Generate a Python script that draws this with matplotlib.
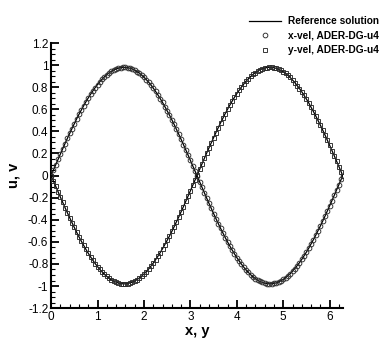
import matplotlib
matplotlib.use("Agg")
import matplotlib.pyplot as plt
from matplotlib.ticker import MultipleLocator

# sample positions along x (or y)
x_pos = [0.00, 0.05, 0.10, 0.15, 0.20, 0.25, 0.30, 0.35, 0.40, 0.45,
         0.50, 0.55, 0.60, 0.65, 0.70, 0.75, 0.80, 0.85, 0.90, 0.95,
         1.00, 1.05, 1.10, 1.15, 1.20, 1.25, 1.30, 1.35, 1.40, 1.45,
         1.50, 1.55, 1.60, 1.65, 1.70, 1.75, 1.80, 1.85, 1.90, 1.95,
         2.00, 2.05, 2.10, 2.15, 2.20, 2.25, 2.30, 2.35, 2.40, 2.45,
         2.50, 2.55, 2.60, 2.65, 2.70, 2.75, 2.80, 2.85, 2.90, 2.95,
         3.00, 3.05, 3.10, 3.15, 3.20, 3.25, 3.30, 3.35, 3.40, 3.45,
         3.50, 3.55, 3.60, 3.65, 3.70, 3.75, 3.80, 3.85, 3.90, 3.95,
         4.00, 4.05, 4.10, 4.15, 4.20, 4.25, 4.30, 4.35, 4.40, 4.45,
         4.50, 4.55, 4.60, 4.65, 4.70, 4.75, 4.80, 4.85, 4.90, 4.95,
         5.00, 5.05, 5.10, 5.15, 5.20, 5.25, 5.30, 5.35, 5.40, 5.45,
         5.50, 5.55, 5.60, 5.65, 5.70, 5.75, 5.80, 5.85, 5.90, 5.95,
         6.00, 6.05, 6.10, 6.15, 6.20, 6.25, 6.28]

# x-velocity values
u_vals = [0.000, 0.049, 0.098, 0.146, 0.195, 0.242, 0.290, 0.336, 0.381, 0.426,
          0.469, 0.513, 0.554, 0.593, 0.631, 0.668, 0.703, 0.736, 0.767, 0.797,
          0.824, 0.850, 0.873, 0.895, 0.913, 0.930, 0.945, 0.956, 0.965, 0.973,
          0.977, 0.980, 0.980, 0.977, 0.972, 0.964, 0.955, 0.942, 0.927, 0.910,
          0.891, 0.869, 0.846, 0.820, 0.792, 0.762, 0.731, 0.697, 0.662, 0.625,
          0.586, 0.547, 0.506, 0.463, 0.418, 0.374, 0.328, 0.281, 0.234, 0.186,
          0.138, 0.089, 0.041, -0.008, -0.057, -0.106, -0.155, -0.203, -0.251, -0.297,
          -0.344, -0.389, -0.434, -0.477, -0.519, -0.561, -0.600, -0.638, -0.674, -0.709,
          -0.742, -0.772, -0.802, -0.829, -0.855, -0.877, -0.898, -0.916, -0.933, -0.947,
          -0.958, -0.967, -0.974, -0.978, -0.980, -0.979, -0.976, -0.971, -0.962, -0.953,
          -0.940, -0.925, -0.907, -0.888, -0.865, -0.842, -0.815, -0.788, -0.758, -0.725,
          -0.692, -0.657, -0.618, -0.580, -0.540, -0.498, -0.456, -0.412, -0.367, -0.320,
          -0.273, -0.226, -0.178, -0.129, -0.081, -0.032, 0.000]

# y-velocity values
v_vals = [0.000, -0.049, -0.098, -0.146, -0.195, -0.242, -0.290, -0.336, -0.381, -0.426,
          -0.469, -0.513, -0.554, -0.593, -0.631, -0.668, -0.703, -0.736, -0.767, -0.797,
          -0.824, -0.850, -0.873, -0.895, -0.913, -0.930, -0.945, -0.956, -0.965, -0.973,
          -0.977, -0.980, -0.980, -0.977, -0.972, -0.964, -0.955, -0.942, -0.927, -0.910,
          -0.891, -0.869, -0.846, -0.820, -0.792, -0.762, -0.731, -0.697, -0.662, -0.625,
          -0.586, -0.547, -0.506, -0.463, -0.418, -0.374, -0.328, -0.281, -0.234, -0.186,
          -0.138, -0.089, -0.041, 0.008, 0.057, 0.106, 0.155, 0.203, 0.251, 0.297,
          0.344, 0.389, 0.434, 0.477, 0.519, 0.561, 0.600, 0.638, 0.674, 0.709,
          0.742, 0.772, 0.802, 0.829, 0.855, 0.877, 0.898, 0.916, 0.933, 0.947,
          0.958, 0.967, 0.974, 0.978, 0.980, 0.979, 0.976, 0.971, 0.962, 0.953,
          0.940, 0.925, 0.907, 0.888, 0.865, 0.842, 0.815, 0.788, 0.758, 0.725,
          0.692, 0.657, 0.618, 0.580, 0.540, 0.498, 0.456, 0.412, 0.367, 0.320,
          0.273, 0.226, 0.178, 0.129, 0.081, 0.032, 0.000]

legend_labels = ["Reference solution", "x-vel, ADER-DG-u4", "y-vel, ADER-DG-u4"]

plt.rcParams['font.family'] = ['Liberation Sans', 'DejaVu Sans']

fig = plt.figure(figsize=(3.9, 3.47), dpi=100)
ax = fig.add_axes([0.131, 0.112, 0.748, 0.764])

ref1, = ax.plot(x_pos, u_vals, color='black', lw=0.9, zorder=3)
ax.plot(x_pos, v_vals, color='black', lw=0.9, zorder=3)
mu, = ax.plot(x_pos, u_vals, linestyle='none', marker='o', ms=3.4,
              mfc='none', mec='#2a2a2a', mew=0.65, zorder=4)
mv, = ax.plot(x_pos, v_vals, linestyle='none', marker='s', ms=2.8,
              mfc='none', mec='#2a2a2a', mew=0.65, zorder=4)

ax.set_xlim(0, 6.2832)
ax.set_ylim(-1.2, 1.2)
ax.xaxis.set_major_locator(MultipleLocator(1))
ax.xaxis.set_minor_locator(MultipleLocator(0.2))
ax.yaxis.set_major_locator(MultipleLocator(0.2))
ax.yaxis.set_minor_locator(MultipleLocator(0.05))
ax.yaxis.set_major_formatter(matplotlib.ticker.FuncFormatter(
    lambda v, p: ('%g' % round(v, 2)) if abs(v) > 1e-9 else '0'))

for s in ['top', 'right']:
    ax.spines[s].set_visible(False)
for s in ['left', 'bottom']:
    ax.spines[s].set_linewidth(1.5)

ax.tick_params(which='major', direction='in', length=6, width=1.3,
               labelsize=8.5, pad=2)
ax.tick_params(which='minor', direction='in', length=3, width=0.8)

ax.set_xlabel('x, y', fontsize=10.5, fontweight='bold', labelpad=1)
ax.set_ylabel('u, v', fontsize=10.5, fontweight='bold', labelpad=5)

leg = ax.legend([ref1, mu, mv], legend_labels, loc='upper left',
                bbox_to_anchor=(0.625, 0.968), bbox_transform=fig.transFigure,
                frameon=False, handlelength=3.2, handletextpad=0.7,
                labelspacing=0.45, borderpad=0, numpoints=1,
                prop={'size': 7.3, 'weight': 'bold'})

fig.savefig('out.png', dpi=100)
